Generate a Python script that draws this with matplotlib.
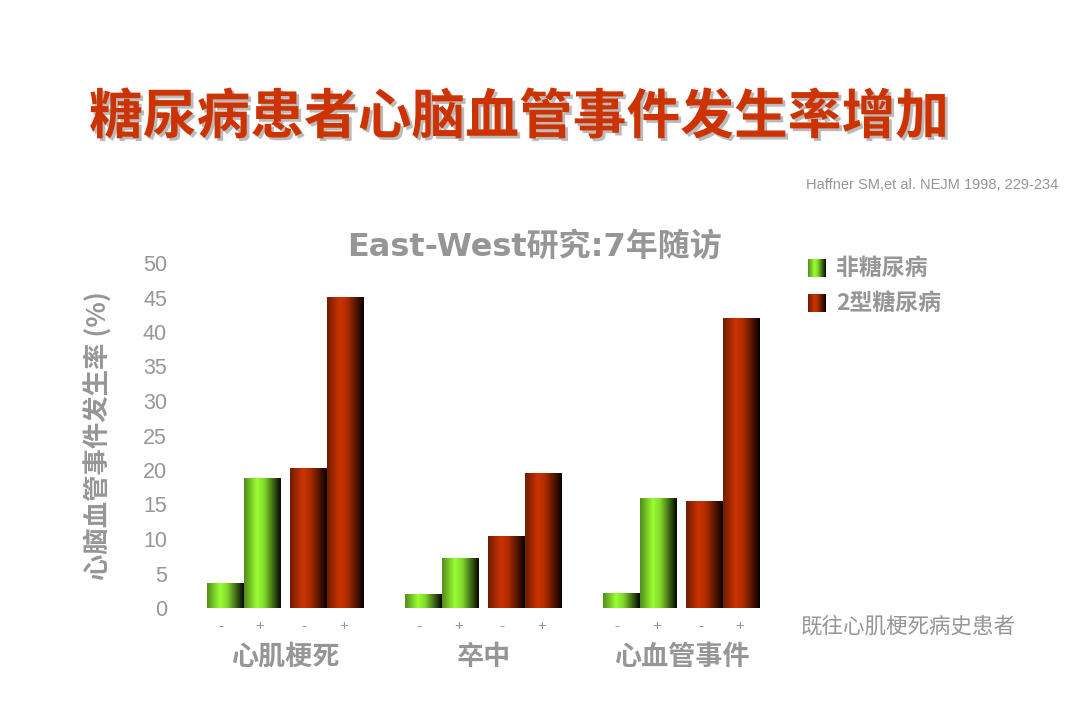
import numpy as np
import matplotlib
matplotlib.use("Agg")
import matplotlib.pyplot as plt
import matplotlib.patheffects as pe

plt.rcParams['font.family'] = ['Noto Sans CJK SC', 'DejaVu Sans']

# data (%)
groups = ['心肌梗死', '卒中', '心血管事件']
non_diabetic = [[3.5, 18.8], [1.9, 7.2], [2.1, 15.9]]   # prior MI -, +
type2_diabetic = [[20.2, 45.0], [10.3, 19.5], [15.4, 42.0]]
prior_mi_labels = ['-', '+']
series_names = ['非糖尿病', '2型糖尿病']

GREY = '#969696'
GREEN = np.array([0.60, 1.00, 0.20])
RED = np.array([0.80, 0.20, 0.00])


def gradient(base, n=80):
    t = np.linspace(0, 1, n)
    b = np.interp(t, [0, 0.35, 0.55, 1.0], [0.55, 1.0, 0.85, 0.03])
    return (base[None, :] * b[:, None])[None, :, :]


fig = plt.figure(figsize=(10.8, 7.2), dpi=100)
fig.patch.set_facecolor('white')

# axes placed so that 1 data unit = 37 px
left_px, right_px, top_px, bot_px = 178, 780, 263, 608
ax = fig.add_axes([left_px / 1080, 1 - bot_px / 720,
                   (right_px - left_px) / 1080, (bot_px - top_px) / 720])

group_step = 5.36
inner = [0, 1, 2.25, 3.25]
bar_w = 1.0

for g, name in enumerate(groups):
    off = g * group_step
    vals = non_diabetic[g] + type2_diabetic[g]
    cols = [GREEN, GREEN, RED, RED]
    xs = [off + d for d in inner]
    bars = ax.bar(xs, vals, width=bar_w, color='none', edgecolor='none')
    for rect, c in zip(bars, cols):
        x0 = rect.get_x()
        ax.imshow(gradient(c), extent=(x0, x0 + rect.get_width(), 0, rect.get_height()),
                  aspect='auto', interpolation='bilinear', zorder=2)
    for i, x in enumerate(xs):
        ax.text(x - 0.12 if i % 2 == 0 else x - 0.05, -2.6, prior_mi_labels[i % 2],
                ha='center', va='center', color=GREY, fontsize=11,
                family=['Liberation Sans'], clip_on=False)
    ax.text(off + 1.625, -7.1, name, ha='center', va='center', color=GREY,
            fontsize=19.5, fontweight='bold', clip_on=False)

ax.set_xlim((left_px - 225) / 37, (right_px - 225) / 37)
ax.set_ylim(0, 50)
ax.set_yticks(range(0, 51, 5))
ax.set_xticks([])
ax.tick_params(axis='y', length=0, pad=8, labelsize=15.5, labelcolor=GREY)
for lab in ax.get_yticklabels():
    lab.set_family(['Liberation Sans'])
for s in ax.spines.values():
    s.set_visible(False)

ax.set_ylabel('心脑血管事件发生率 (%)', color=GREY, fontsize=19, fontweight='bold')
ax.yaxis.set_label_coords(-0.108, 0.5)

# main title
fig.text(89 / 1080, 1 - 118 / 720, '糖尿病患者心脑血管事件发生率增加',
         color='#CC3300', fontsize=38.7, fontweight='bold', va='center', ha='left',
         path_effects=[pe.withSimplePatchShadow(offset=(2, -2), shadow_rgbFace='#777777',
                                                alpha=0.5)])

fig.text(1058 / 1080, 1 - 185 / 720, 'Haffner SM,et al. NEJM 1998, 229-234',
         color=GREY, fontsize=10.5, ha='right', va='center', family=['Liberation Sans'])

fig.text(535 / 1080, 1 - 247 / 720, 'East-West研究:7年随访', color=GREY,
         fontsize=23, fontweight='bold', ha='center', va='center',
         family=['DejaVu Sans', 'Noto Sans CJK SC'])

# legend
for k, (c, label) in enumerate(zip([GREEN, RED], series_names)):
    yc = 268 + k * 35
    lax = fig.add_axes([808 / 1080, 1 - (yc + 9) / 720, 18 / 1080, 18 / 720])
    lax.imshow(gradient(c), aspect='auto', interpolation='bilinear')
    lax.axis('off')
    fig.text(836 / 1080, 1 - yc / 720, label, color=GREY, fontsize=16.5,
             fontweight='bold', ha='left', va='center')

fig.text(801 / 1080, 1 - 626 / 720, '既往心肌梗死病史患者', color=GREY, fontsize=15.5,
         ha='left', va='center')

fig.savefig('out.png', dpi=100, facecolor='white')
